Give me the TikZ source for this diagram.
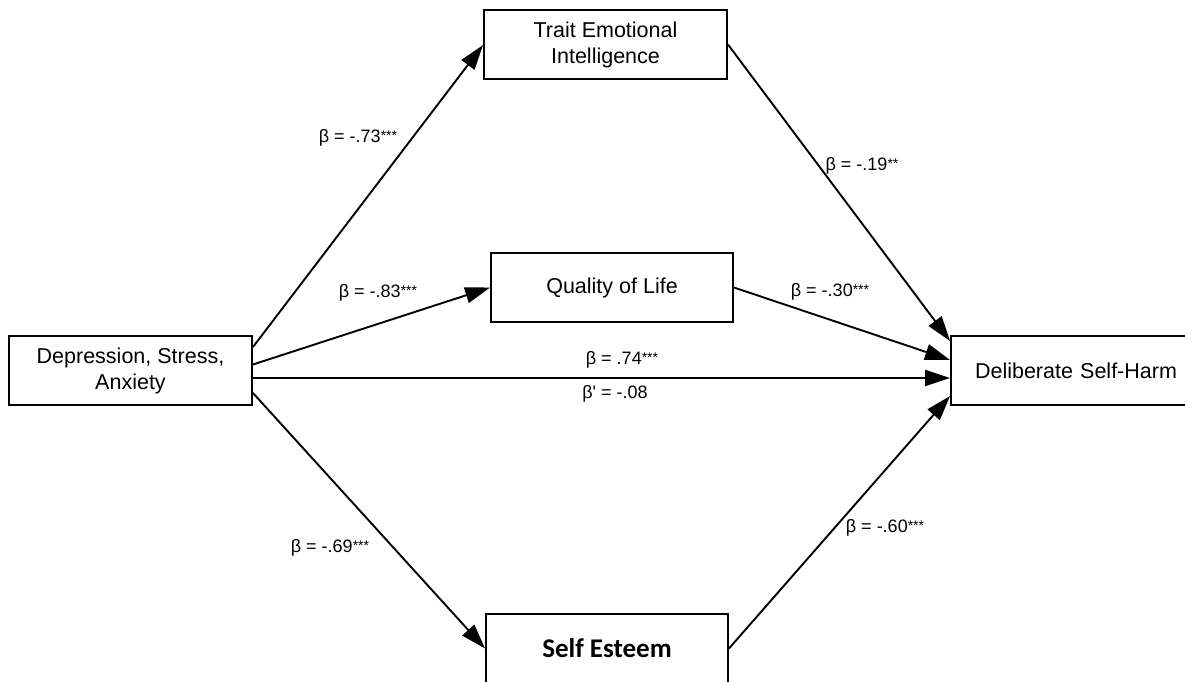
\documentclass[tikz,border=0pt]{standalone}
\usepackage{fontspec}
\setmainfont{Liberation Sans}
\newfontfamily\carlito{Carlito}
\usetikzlibrary{arrows.meta,calc}
\newcommand{\stars}[1]{\raisebox{2.5pt}{\fontsize{14}{14}\selectfont #1}}
\tikzset{
  box/.style={draw=black, line width=1.9pt, fill=white, inner sep=0pt, align=center,
              font=\fontsize{21.5}{26}\selectfont},
  conn/.style={line width=1.9pt, -{Triangle[length=25pt,width=16pt]}},
  lbl/.style={font=\fontsize{18}{20}\selectfont, inner sep=0pt},
}
\begin{document}
\begin{tikzpicture}[x=1pt,y=-1pt]
\clip (0,0) rectangle (1185,681);
\fill[white] (0,0) rectangle (1185,681);
\node[box, minimum width=243pt, minimum height=69pt] (tei) at (605.5,44.5) {Trait Emotional\\Intelligence};
\node[box, minimum width=242pt, minimum height=69pt] (qol) at (612,287.5) {Quality of Life};
\node[box, minimum width=243pt, minimum height=69pt] (dsa) at (130.5,370.5) {Depression, Stress,\\Anxiety};
\node[box, minimum width=250pt, minimum height=69pt, text width=232pt] (dsh) at (1076,370.5) {Deliberate Self-Harm};
\node[box, minimum width=242pt, minimum height=69pt, font=\carlito\bfseries\fontsize{27}{30}\selectfont] (se) at (607,648.5) {Self Esteem};

\draw[conn] ($(dsa.north east)+(0,12)$) -- ($(tei.north west)+(0,36)$);
\draw[conn] ($(dsa.east)+(0,-6)$) -- (qol.west);
\draw[conn] ($(dsa.east)+(0,7.5)$) -- ($(dsh.west)+(0,7.5)$);
\draw[conn] ($(dsa.south east)+(0,-13)$) -- (se.west);
\draw[conn] (tei.east) -- ($(dsh.north west)+(0,6)$);
\draw[conn] (qol.east) -- ($(dsh.west)+(0,-10.5)$);
\draw[conn] (se.east) -- ($(dsh.south west)+(0,-10)$);

\node[lbl] (l1) at (358,138) {β = -.73\stars{***}};
\node[lbl] (l2) at (378,293) {β = -.83\stars{***}};
\node[lbl] (l3) at (862,166) {β = -.19\stars{**}};
\node[lbl] (l4) at (830,292) {β = -.30\stars{***}};
\node[lbl] (l5) at (622,360) {β = .74\stars{***}};
\node[lbl] (l6) at (615,394) {β\textquotesingle{} = -.08};
\node[lbl] (l7) at (330,548) {β = -.69\stars{***}};
\node[lbl] (l8) at (885,528) {β = -.60\stars{***}};
\end{tikzpicture}
\end{document}
